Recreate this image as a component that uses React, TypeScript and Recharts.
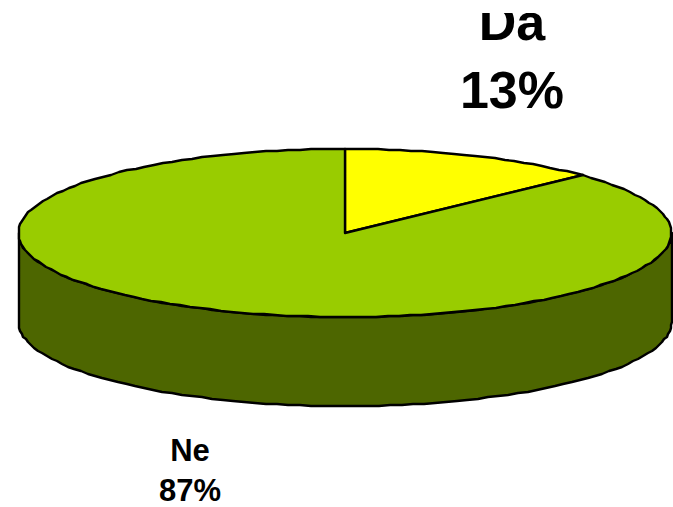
import { PieChart, Pie } from "recharts";

const categories = ["Da", "Ne"];
const shares = [13, 87];
const topColors = ["#FFFF00", "#99CC00"];
const wallColor = "#4D6600";

const chartData = categories.map((name, i) => ({
  name,
  value: shares[i],
  fill: topColors[i],
}));

const CHART_W = 673;
const CHART_H = 507;
const CX = 345;
const CY = 233;
const RADIUS = 326.5;
const SQUASH = 84 / 326.5;
const DEPTH = 89;

// the ellipse is a slightly stepped polyline, the original was exported like that
function rimPoint(cx: number, cy: number, r: number, deg: number, dy = 0) {
  const a = (deg * Math.PI) / 180;
  const x = cx + r * Math.cos(a);
  const y = cy - r * SQUASH * Math.sin(a) + dy;
  return [Math.round(x), Math.round(y)];
}

function rim(cx: number, cy: number, r: number, from: number, to: number, dy = 0) {
  const steps = Math.max(1, Math.ceil(Math.abs(to - from) / 2));
  const pts = [];
  for (let i = 0; i <= steps; i++) {
    pts.push(rimPoint(cx, cy, r, from + ((to - from) * i) / steps, dy));
  }
  return pts;
}

function TopSlice(props: any) {
  const { cx, cy, outerRadius, startAngle, endAngle, fill } = props;
  const pts = rim(cx, cy, outerRadius, startAngle, endAngle);
  const d = `M${cx},${cy} ` + pts.map((p) => `L${p[0]},${p[1]}`).join(" ") + " Z";
  return <path d={d} fill={fill} stroke="#000" strokeWidth={2.4} strokeLinejoin="round" />;
}

function WallSlice(props: any) {
  const { cx, cy, outerRadius, startAngle, endAngle } = props;
  // only the front half of the rim shows a wall
  const from = Math.min(startAngle, 0);
  const to = Math.max(endAngle, -180);
  if (from <= to) return null;
  const upper = rim(cx, cy, outerRadius, from, to);
  const lower = rim(cx, cy, outerRadius, to, from, DEPTH);
  const d = [...upper, ...lower].map((p, i) => `${i ? "L" : "M"}${p[0]},${p[1]}`).join(" ") + " Z";
  return <path d={d} fill={wallColor} stroke="#000" strokeWidth={2.4} strokeLinejoin="round" />;
}

function SliceLabel(props: any) {
  const { name, percent } = props;
  const big = name === "Da";
  const x = big ? 512 : 190;
  const y1 = big ? 40 : 461;
  const y2 = big ? 108 : 501;
  const size = big ? 52 : 31;
  return (
    <g clipPath="url(#labelClip)">
      <defs>
        <clipPath id="labelClip">
          <rect x={0} y={13} width={CHART_W} height={CHART_H} />
        </clipPath>
      </defs>
      <text
        textAnchor="middle"
        fontFamily="Liberation Sans, Arial, sans-serif"
        fontWeight="bold"
        fontSize={size}
        fill="#000"
      >
        <tspan x={x} y={y1}>{name}</tspan>
        <tspan x={x} y={y2}>{Math.round(percent * 100)}%</tspan>
      </text>
    </g>
  );
}

export default function App() {
  return (
    <div style={{ position: "absolute", left: 0, top: 0 }}>
      <PieChart width={CHART_W} height={CHART_H} margin={{ top: 0, right: 0, bottom: 0, left: 0 }}>
        <Pie
          data={chartData}
          dataKey="value"
          cx={CX}
          cy={CY}
          outerRadius={RADIUS}
          startAngle={90}
          endAngle={-270}
          isAnimationActive={false}
          shape={WallSlice}
          label={false}
          labelLine={false}
        />
        <Pie
          data={chartData}
          dataKey="value"
          nameKey="name"
          cx={CX}
          cy={CY}
          outerRadius={RADIUS}
          startAngle={90}
          endAngle={-270}
          isAnimationActive={false}
          shape={TopSlice}
          label={SliceLabel}
          labelLine={false}
        />
      </PieChart>
    </div>
  );
}
